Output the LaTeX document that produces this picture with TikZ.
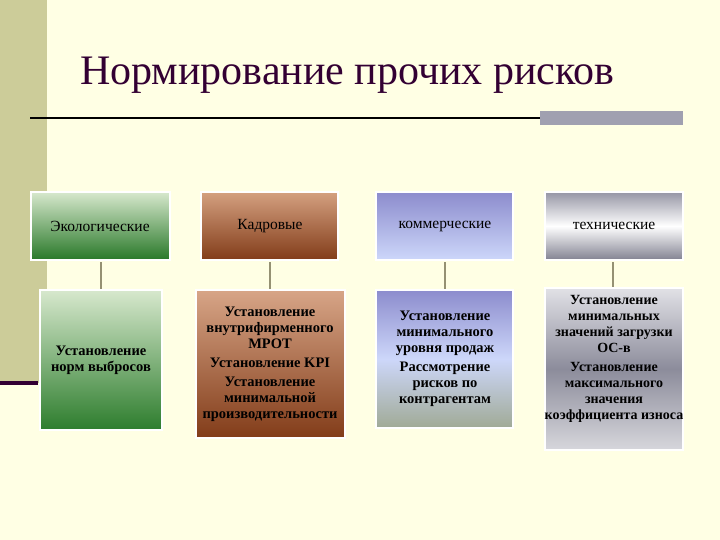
\documentclass[tikz,border=0pt]{standalone}
\usepackage{fontspec}
\setmainfont{Liberation Serif}
\begin{document}
\begin{tikzpicture}[x=1pt,y=-1pt,
  box/.style={inner sep=0pt,align=center,font=\fontsize{14.5}{16}\selectfont\bfseries},
  lbl/.style={align=center,font=\fontsize{15.5}{17}\selectfont},
  conn/.style={draw=black!45!yellow!40!gray,line width=1.2pt}]
\definecolor{bg}{HTML}{FFFFE4}
\fill[bg] (0,0) rectangle (720,540);
\useasboundingbox (0,0) rectangle (720,540);
\fill[color={rgb,255:red,204;green,204;blue,153}] (0,0) rectangle (47,383);
\fill[color={rgb,255:red,51;green,0;blue,51}] (0,381) rectangle (38,385);
\node[anchor=base west,inner sep=0pt,text={rgb,255:red,51;green,0;blue,51},font=\fontsize{42}{46}\selectfont] (title) at (80,85) {Нормирование прочих рисков};
\draw[line width=1.6pt] (30,118) -- (540,118);
\fill[color={rgb,255:red,160;green,160;blue,176}] (540,111) rectangle (683,125);
% top boxes
\path[top color={rgb,255:red,215;green,232;blue,205},bottom color={rgb,255:red,40;green,120;blue,40},draw=white,line width=1.5pt] (31,192) rectangle (170,260);
\node[lbl] (t1) at (100,226) {Экологические};
\path[top color={rgb,255:red,212;green,160;blue,128},bottom color={rgb,255:red,130;green,60;blue,25},draw=white,line width=1.5pt] (201,192) rectangle (338,260);
\node[lbl] (t2) at (270,226) {Кадровые};
\path[top color={rgb,255:red,140;green,140;blue,205},bottom color={rgb,255:red,205;green,215;blue,250},draw=white,line width=1.5pt] (376,192) rectangle (513,260);
\node[lbl] (t3) at (445,226) {коммерческие};
\path[top color={rgb,255:red,150;green,150;blue,165},bottom color={rgb,255:red,130;green,130;blue,145},middle color=white,draw=white,line width=1.5pt] (545,192) rectangle (683,260);
\node[lbl] (t4) at (614,226) {технические};
% bottom boxes
\path[top color={rgb,255:red,215;green,232;blue,205},bottom color={rgb,255:red,45;green,125;blue,45},draw=white,line width=1.5pt] (40,290) rectangle (162,430);
\node[box] (b1) at (101,360) {Установление\\норм выбросов};
\path[top color={rgb,255:red,215;green,165;blue,135},bottom color={rgb,255:red,130;green,60;blue,25},draw=white,line width=1.5pt] (196,290) rectangle (345,438);
\node[box] (b2) at (270,364) {Установление\\внутрифирменного\\МРОТ\\[3pt]Установление KPI\\[3pt]Установление\\минимальной\\производительности};
\path[top color={rgb,255:red,140;green,140;blue,205},bottom color={rgb,255:red,160;green,170;blue,150},middle color={rgb,255:red,205;green,215;blue,250},draw=white,line width=1.5pt] (376,290) rectangle (513,428);
\node[box] (b3) at (445,359) {Установление\\минимального\\уровня продаж\\[3pt]Рассмотрение\\рисков по\\контрагентам};
\path[top color={rgb,255:red,225;green,225;blue,230},bottom color={rgb,255:red,215;green,215;blue,220},middle color={rgb,255:red,140;green,140;blue,155},draw=white,line width=1.5pt] (545,288) rectangle (683,450);
\node[box,font=\fontsize{14}{16}\selectfont\bfseries] (b4) at (614,359) {Установление\\минимальных\\значений загрузки\\ОС-в\\[3pt]Установление\\максимального\\значения\\коэффициента износа};
\coordinate (c1a) at (101,262); \coordinate (c1b) at (101,289);
\coordinate (c2a) at (270,262); \coordinate (c2b) at (270,289);
\coordinate (c3a) at (445,262); \coordinate (c3b) at (445,289);
\coordinate (c4a) at (613,262); \coordinate (c4b) at (613,287);
\draw[conn] (c1a) -- (c1b); \draw[conn] (c2a) -- (c2b);
\draw[conn] (c3a) -- (c3b); \draw[conn] (c4a) -- (c4b);
\end{tikzpicture}
\end{document}
